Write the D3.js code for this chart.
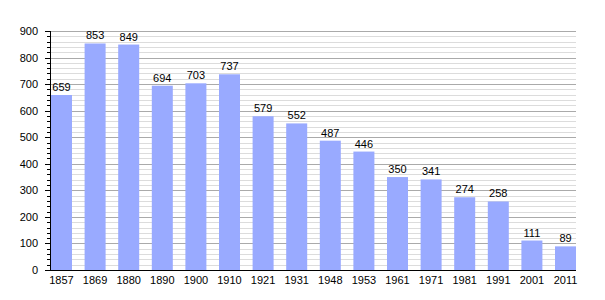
<!DOCTYPE html>
<html>
<head>
<meta charset="utf-8">
<script src="https://cdn.jsdelivr.net/npm/d3@7"></script>
<style>
  body { margin: 0; background: #fff; }
  svg { font-family: "Liberation Sans", Arial, sans-serif; }
</style>
</head>
<body>
<svg width="605" height="300"></svg>
<script>
const years = ["1857", "1869", "1880", "1890", "1900", "1910", "1921", "1931",
  "1948", "1953", "1961", "1971", "1981", "1991", "2001", "2011"];
const population = [659, 853, 849, 694, 703, 737, 579, 552, 487, 446, 350, 341, 274, 258, 111, 89];
const yTicks = [0, 100, 200, 300, 400, 500, 600, 700, 800, 900];

const svg = d3.select("svg");
const plotLeft = 50, plotRight = 576, plotTop = 31, plotBottom = 270;

const x = d3.scaleBand()
  .domain(years)
  .range([plotLeft + 1, plotRight])
  .paddingInner(0.375)
  .paddingOuter(0);

const y = d3.scaleLinear()
  .domain([0, 900])
  .range([plotBottom, plotTop]);

// Minor grid (every 20)
const minor = d3.range(20, 901, 20).filter(v => v % 100 !== 0);
svg.append("g").selectAll("line")
  .data(minor)
  .join("line")
  .attr("x1", plotLeft).attr("x2", plotRight)
  .attr("y1", d => Math.round(y(d)) + 0.5).attr("y2", d => Math.round(y(d)) + 0.5)
  .attr("stroke", "#dcdcdc");

// Major grid (every 100)
svg.append("g").selectAll("line")
  .data(yTicks.slice(1))
  .join("line")
  .attr("x1", plotLeft).attr("x2", plotRight)
  .attr("y1", d => Math.round(y(d)) + 0.5).attr("y2", d => Math.round(y(d)) + 0.5)
  .attr("stroke", "#aaaaaa");

// Bars
svg.append("g").selectAll("rect")
  .data(population)
  .join("rect")
  .attr("x", (d, i) => x(years[i]))
  .attr("width", x.bandwidth())
  .attr("y", d => y(d))
  .attr("height", d => plotBottom - y(d))
  .attr("fill", "#99aaff");

// Value labels
svg.append("g").selectAll("text")
  .data(population)
  .join("text")
  .attr("x", (d, i) => x(years[i]) + x.bandwidth() / 2)
  .attr("y", d => y(d) - 4)
  .attr("text-anchor", "middle")
  .attr("font-size", 11)
  .attr("fill", "#000")
  .text(d => d);

// Y ticks: long at hundreds, short every 20
svg.append("g").selectAll("line")
  .data(d3.range(0, 901, 20))
  .join("line")
  .attr("x1", d => d % 100 === 0 ? plotLeft - 5 : plotLeft - 3).attr("x2", plotLeft)
  .attr("y1", d => Math.round(y(d)) + 0.5).attr("y2", d => Math.round(y(d)) + 0.5)
  .attr("stroke", "#000");

// Y labels
svg.append("g").selectAll("text")
  .data(yTicks)
  .join("text")
  .attr("x", plotLeft - 12)
  .attr("y", d => y(d) + 4)
  .attr("text-anchor", "end")
  .attr("font-size", 11)
  .text(d => d);

// Axis lines
svg.append("line")
  .attr("x1", plotLeft + 0.5).attr("x2", plotLeft + 0.5)
  .attr("y1", plotTop).attr("y2", plotBottom)
  .attr("stroke", "#000");
svg.append("line")
  .attr("x1", plotLeft - 5).attr("x2", plotRight)
  .attr("y1", plotBottom + 0.5).attr("y2", plotBottom + 0.5)
  .attr("stroke", "#000");

// X labels
svg.append("g").selectAll("text")
  .data(years)
  .join("text")
  .attr("x", d => x(d) + x.bandwidth() / 2)
  .attr("y", plotBottom + 14)
  .attr("text-anchor", "middle")
  .attr("font-size", 11)
  .text(d => d);
</script>
</body>
</html>
